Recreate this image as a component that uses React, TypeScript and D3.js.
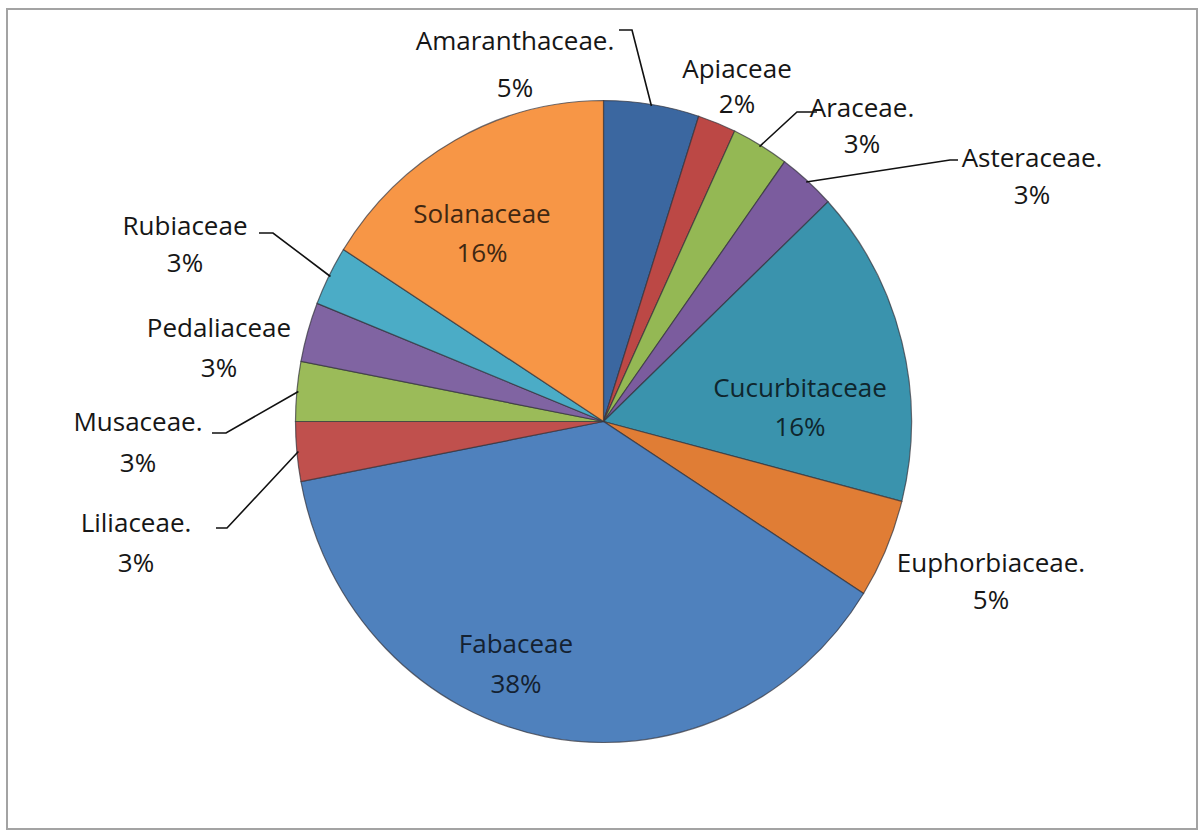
import React from "react";
import * as d3 from "d3";

// Plant families and their share of the species list (percent)
const families = [
  "Amaranthaceae.",
  "Apiaceae",
  "Araceae.",
  "Asteraceae.",
  "Cucurbitaceae",
  "Euphorbiaceae.",
  "Fabaceae",
  "Liliaceae.",
  "Musaceae.",
  "Pedaliaceae",
  "Rubiaceae",
  "Solanaceae",
];
const shares = [5, 2, 3, 3, 16, 5, 38, 3, 3, 3, 3, 16];
const sliceColors = [
  "#3B67A0",
  "#BC4845",
  "#94B854",
  "#7B5C9E",
  "#3A93AD",
  "#E07D35",
  "#4F81BD",
  "#C0504D",
  "#9BBB59",
  "#8064A2",
  "#4BACC6",
  "#F79646",
];

// Label placement: centre x, baselines of the two lines, optional leader stub
type LabelLayout = {
  x: number;
  y1: number;
  y2: number;
  inside?: boolean;
  stub?: [number, number, number, number];
};
const labelLayout: LabelLayout[] = [
  { x: 515, y1: 50, y2: 97, stub: [619, 30, 632, 30] },
  { x: 737, y1: 78, y2: 113 },
  { x: 862, y1: 117, y2: 153, stub: [817, 112, 797, 112] },
  { x: 1032, y1: 167, y2: 204, stub: [958, 160, 950, 160] },
  { x: 800, y1: 397, y2: 436, inside: true },
  { x: 991, y1: 572, y2: 609 },
  { x: 516, y1: 653, y2: 693, inside: true },
  { x: 136, y1: 532, y2: 572, stub: [216, 528, 227, 528] },
  { x: 138, y1: 431, y2: 472, stub: [212, 433, 226, 433] },
  { x: 219, y1: 337, y2: 377 },
  { x: 185, y1: 235, y2: 272, stub: [259, 233, 273, 233] },
  { x: 482, y1: 223, y2: 262, inside: true },
];

const W = 1200;
const H = 834;
const cx = 603.5;
const cy = 421.5;
const rx = 308;
const ry = 321;

type Slice = { name: string; value: number; color: string; layout: LabelLayout };

export default function App() {
  const data: Slice[] = families.map((name, i) => ({
    name,
    value: shares[i],
    color: sliceColors[i],
    layout: labelLayout[i],
  }));

  const pie = d3
    .pie<Slice>()
    .sort(null)
    .value((d) => d.value)
    .startAngle(0)
    .endAngle(2 * Math.PI);
  const arcs = pie(data);
  const arcGen = d3.arc<d3.PieArcDatum<Slice>>().innerRadius(0).outerRadius(rx);

  const sy = ry / rx;
  // point on the rim at the middle of a slice, where its leader line ends
  const edgePoint = (a: d3.PieArcDatum<Slice>) => {
    const mid = (a.startAngle + a.endAngle) / 2;
    return [cx + rx * 0.995 * Math.sin(mid), cy - ry * 0.995 * Math.cos(mid)];
  };

  const font = "'Open Sans', 'DejaVu Sans', sans-serif";

  return (
    <svg
      width={W}
      height={H}
      viewBox={`0 0 ${W} ${H}`}
      style={{ position: "absolute", left: 0, top: 0, background: "#fff" }}
    >
      <rect x={0} y={0} width={W} height={H} fill="#ffffff" />
      <rect
        x={7}
        y={9}
        width={1190}
        height={820}
        fill="none"
        stroke="#a3a3a3"
        strokeWidth={2}
      />
      <g transform={`translate(${cx},${cy}) scale(1,${sy})`}>
        {arcs.map((a, i) => (
          <path
            key={i}
            d={arcGen(a) || ""}
            fill={a.data.color}
            stroke="rgba(50,50,58,0.7)"
            strokeWidth={1.2}
            vectorEffect="non-scaling-stroke"
          />
        ))}
      </g>
      {arcs.map((a, i) => {
        const L = a.data.layout;
        if (!L.stub) return null;
        const [ex, ey] = edgePoint(a);
        const [x1, y1, x2, y2] = L.stub;
        return (
          <path
            key={`l${i}`}
            d={`M${x1},${y1}L${x2},${y2}L${ex},${ey}`}
            fill="none"
            stroke="#111"
            strokeWidth={1.6}
          />
        );
      })}
      {arcs.map((a, i) => {
        const L = a.data.layout;
        const fill = L.inside
          ? (d3.color(a.data.color) as d3.RGBColor).darker(3.8).formatHex()
          : "#161616";
        return (
          <g
            key={`t${i}`}
            fontFamily={font}
            fontSize={26}
            fill={fill}
            textAnchor="middle"
          >
            <text x={L.x} y={L.y1}>
              {a.data.name}
            </text>
            <text x={L.x} y={L.y2}>
              {`${a.data.value}%`}
            </text>
          </g>
        );
      })}
    </svg>
  );
}
